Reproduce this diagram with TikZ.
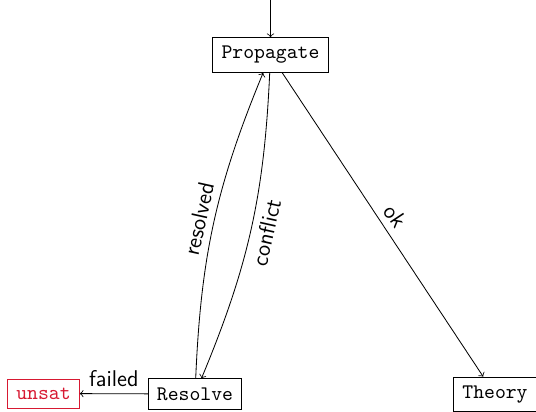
\documentclass[tikz,border=0pt]{standalone}
\definecolor{unsatred}{RGB}{215,25,50}
\begin{document}
\begin{tikzpicture}[x=0.4831pt,y=-0.4831pt,
  box/.style={draw, font=\ttfamily, inner sep=4.2pt},
  lbl/.style={font=\sffamily\fontsize{11}{13}\selectfont},
  >=to]
\useasboundingbox (0,0) rectangle (536,412);
\node[box] (prop) at (270.5,55) {Propagate};
\node[box] (res) at (195,394) {Resolve};
\node[box] (theory) at (495,394.5) {Theory};
\node[box, draw=unsatred, text=unsatred] (unsat) at (43.5,393.5) {unsat};
\coordinate (top) at (270.5,0);
\draw[->] (top) -- (prop);
\draw[->] (prop) to[bend left=10] node[lbl, sloped, below] {conflict} (res);
\draw[->] (res) to[bend left=10] node[lbl, sloped, above] {resolved} (prop);
\draw[->] (prop) -- node[lbl, sloped, above] {ok} (theory);
\draw[->] (res) -- node[lbl, above] {failed} (unsat);
\end{tikzpicture}
\end{document}
